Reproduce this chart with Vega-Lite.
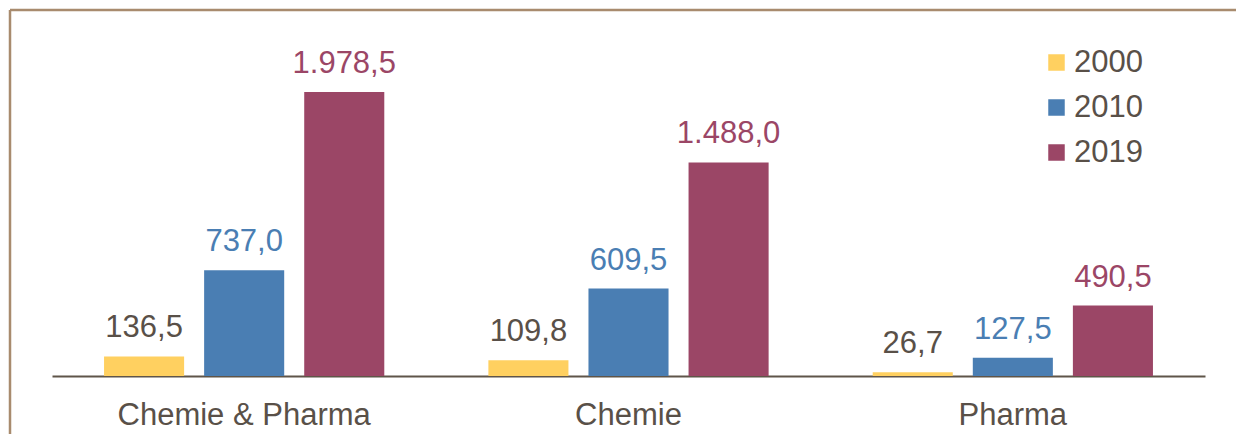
{
  "$schema": "https://vega.github.io/schema/vega-lite/v6.json",
  "autosize": "none",
  "padding": {"left": 10, "top": 10, "right": 0, "bottom": 0},
  "width": 1226,
  "height": 424,
  "background": "white",
  "config": {
    "font": "Liberation Sans",
    "view": {"stroke": "#A88B6E", "strokeWidth": 2.5, "strokeDash": [1226, 1650, 424, 0]},
    "locale": {"number": {"decimal": ",", "thousands": ".", "grouping": [3], "currency": ["", " €"]}}
  },
  "data": {
    "values": [
      {"sector": "Chemie & Pharma", "year": "2000", "value": 136.5},
      {"sector": "Chemie & Pharma", "year": "2010", "value": 737.0},
      {"sector": "Chemie & Pharma", "year": "2019", "value": 1978.5},
      {"sector": "Chemie", "year": "2000", "value": 109.8},
      {"sector": "Chemie", "year": "2010", "value": 609.5},
      {"sector": "Chemie", "year": "2019", "value": 1488.0},
      {"sector": "Pharma", "year": "2000", "value": 26.7},
      {"sector": "Pharma", "year": "2010", "value": 127.5},
      {"sector": "Pharma", "year": "2019", "value": 490.5}
    ]
  },
  "encoding": {
    "x": {
      "field": "sector", "type": "nominal", "sort": ["Chemie & Pharma", "Chemie", "Pharma"],
      "scale": {"range": [42, 1195], "paddingInner": 0, "paddingOuter": 0},
      "axis": {
        "title": null, "orient": "bottom", "offset": -58, "ticks": false,
        "domainColor": "#5F5549", "domainWidth": 2, "labelLimit": 0,
        "labelFontSize": 31, "labelColor": "#595048", "labelPadding": 24, "labelAngle": 0
      }
    },
    "xOffset": {"field": "year", "type": "nominal", "scale": {"paddingInner": 0.2, "paddingOuter": 0.52}},
    "y": {
      "field": "value", "type": "quantitative",
      "scale": {"domain": [0, 2550], "range": [366, 0], "nice": false},
      "axis": null
    }
  },
  "layer": [
    {
      "mark": {"type": "bar"},
      "encoding": {
        "color": {
          "field": "year", "type": "nominal",
          "scale": {"domain": ["2000", "2010", "2019"], "range": ["#FFD060", "#4A7EB3", "#9B4666"]},
          "legend": {
            "title": null, "orient": "none", "legendX": 1031, "legendY": 37,
            "symbolType": "square", "symbolSize": 272, "symbolStrokeWidth": 0,
            "labelFontSize": 31, "labelColor": "#595048", "labelOffset": 2,
            "rowPadding": 13, "padding": 0
          }
        }
      }
    },
    {
      "mark": {"type": "text", "dy": -19, "baseline": "alphabetic", "align": "center", "fontSize": 31},
      "encoding": {
        "text": {"field": "value", "type": "quantitative", "format": ",.1f"},
        "color": {
          "field": "year", "type": "nominal",
          "scale": {"domain": ["2000", "2010", "2019"], "range": ["#595048", "#4A7EB3", "#9B4666"]},
          "legend": null
        }
      }
    }
  ],
  "resolve": {"scale": {"color": "independent"}}
}
